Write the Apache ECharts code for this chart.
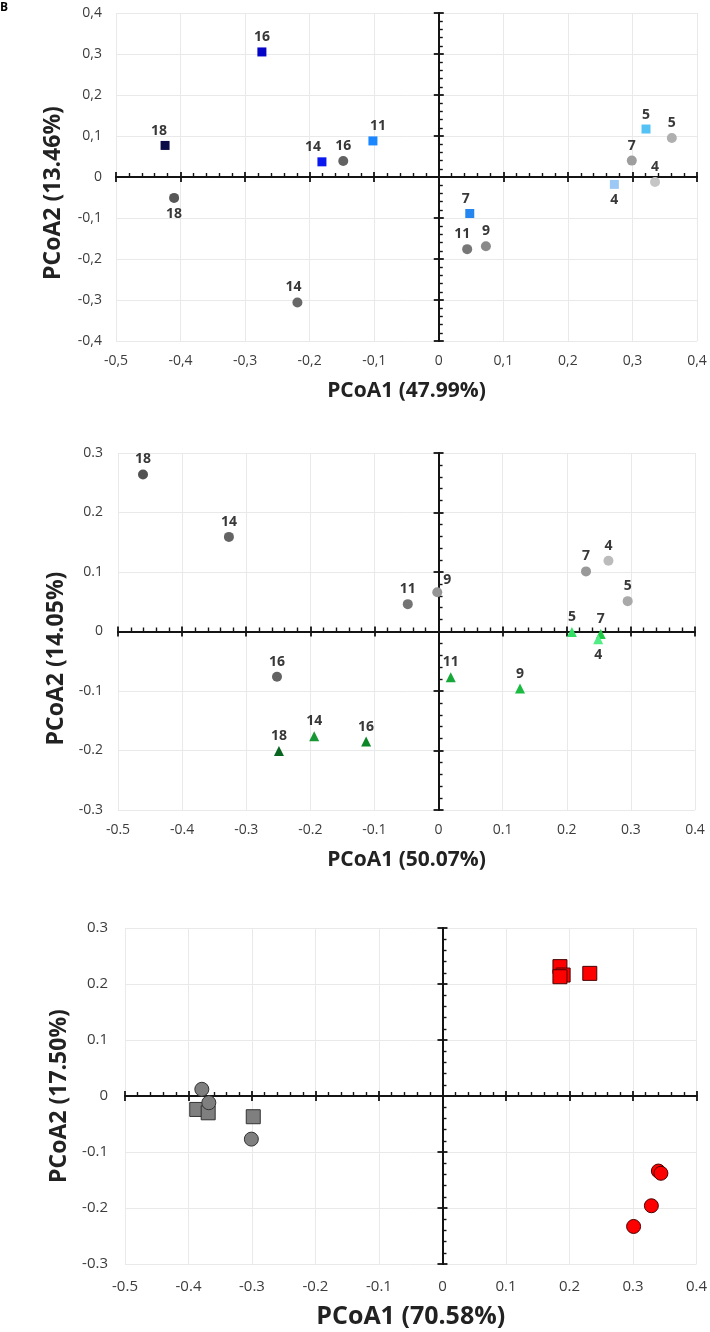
<!DOCTYPE html>
<html>
<head>
<meta charset="utf-8">
<script src="https://cdn.jsdelivr.net/npm/echarts@6/dist/echarts.min.js"></script>
<style>
html,body{margin:0;padding:0;background:#fff;}
#chart{width:710px;height:1332px;}
</style>
</head>
<body>
<div id="chart"></div>
<script>
// ---------- DATA ----------
// Panel 1 (comma decimals)
var p1XTicks = [-0.5,-0.4,-0.3,-0.2,-0.1,0,0.1,0.2,0.3,0.4];
var p1YTicks = [-0.4,-0.3,-0.2,-0.1,0,0.1,0.2,0.3,0.4];
var p1SquareDays = ['18','16','14','11','7','5','4'];
var p1SquareX = [-0.424,-0.274,-0.181,-0.102,0.048,0.321,0.272];
var p1SquareY = [0.077,0.305,0.037,0.088,-0.089,0.117,-0.018];
var p1CircleDays = ['18','16','14','11','9','7','5','4'];
var p1CircleX = [-0.410,-0.148,-0.219,0.044,0.073,0.299,0.361,0.335];
var p1CircleY = [-0.051,0.039,-0.306,-0.176,-0.169,0.040,0.095,-0.012];
var p1XName = 'PCoA1 (47.99%)';
var p1YName = 'PCoA2 (13.46%)';

// Panel 2
var p2XTicks = [-0.5,-0.4,-0.3,-0.2,-0.1,0,0.1,0.2,0.3,0.4];
var p2YTicks = [-0.3,-0.2,-0.1,0,0.1,0.2,0.3];
var p2CircleDays = ['18','16','14','11','9','7','5','4'];
var p2CircleX = [-0.461,-0.252,-0.327,-0.048,-0.002,0.230,0.295,0.265];
var p2CircleY = [0.264,-0.076,0.159,0.046,0.066,0.101,0.051,0.119];
var p2TriangleDays = ['18','16','14','11','9','7','5','4'];
var p2TriangleX = [-0.249,-0.113,-0.194,0.019,0.127,0.253,0.208,0.249];
var p2TriangleY = [-0.201,-0.185,-0.176,-0.077,-0.096,-0.004,-0.001,-0.013];
var p2XName = 'PCoA1 (50.07%)';
var p2YName = 'PCoA2 (14.05%)';

// Panel 3
var p3XTicks = [-0.5,-0.4,-0.3,-0.2,-0.1,0,0.1,0.2,0.3,0.4];
var p3YTicks = [-0.3,-0.2,-0.1,0,0.1,0.2,0.3];
var p3GraySquareX = [-0.387,-0.369,-0.298];
var p3GraySquareY = [-0.024,-0.030,-0.037];
var p3GrayCircleX = [-0.379,-0.368,-0.301];
var p3GrayCircleY = [0.012,-0.012,-0.077];
var p3RedSquareX = [0.185,0.190,0.185,0.232];
var p3RedSquareY = [0.231,0.216,0.213,0.219];
var p3RedCircleX = [0.340,0.344,0.329,0.301];
var p3RedCircleY = [-0.134,-0.138,-0.196,-0.233];
var p3XName = 'PCoA1 (70.58%)';
var p3YName = 'PCoA2 (17.50%)';

// ---------- STYLES ----------
var p1SquareColors = {'18':'#0a0a48','16':'#0505c8','14':'#0a18f0','11':'#1a86ff','7':'#2686f0','5':'#55c2f5','4':'#9cc8f6'};
var p1CircleColors = {'18':'#575757','16':'#626262','14':'#686868','11':'#777777','9':'#8a8a8a','7':'#9e9e9e','5':'#afafaf','4':'#c6c6c6'};
var p2CircleColors = {'18':'#525252','16':'#636363','14':'#646464','11':'#747474','9':'#959595','7':'#999999','5':'#a9a9a9','4':'#bbbbbb'};
var p2TriangleColors = {'18':'#086520','16':'#0c8728','14':'#179733','11':'#15a838','9':'#1abb40','7':'#1fcb44','5':'#30df63','4':'#50ec84'};
var labelOverrides = {
  'p1s-4': {position:'bottom', distance:4},
  'p1c-18': {position:'bottom', distance:4},
  'p1s-14': {offset:[-9,0]},
  'p1s-18': {offset:[-6,0]},
  'p1s-11': {offset:[5,0]},
  'p1c-14': {offset:[-4,0]},
  'p1c-11': {offset:[-5,0]},
  'p1s-7': {offset:[-4,0]},
  'p2c-9': {offset:[10,3]},
  'p2t-4': {position:'bottom', distance:4}
};

var FONT = 'Open Sans';
var grids = [
  {left:116, top:13, width:581, height:328},
  {left:118, top:453, width:577, height:357},
  {left:125, top:928, width:572, height:336}
];

function fmtComma(v){ var n = Number(v.toFixed(1)); return n === 0 ? '0' : n.toFixed(1).replace('.', ','); }
function fmtDot(v){ var n = Number(v.toFixed(1)); return n === 0 ? '0' : n.toFixed(1); }

var xAxes = [], yAxes = [];
function addAxes(i, xTicks, yTicks, fmt, cfg){
  var xMin = xTicks[0], xMax = xTicks[xTicks.length-1];
  var yMin = yTicks[0], yMax = yTicks[yTicks.length-1];
  var base = {type:'value', gridIndex:i, interval:0.1};
  var lineCol = '#141414';
  // label axes
  xAxes.push(Object.assign({}, base, {min:xMin, max:xMax, position:'bottom',
    axisLine:{show:false, onZero:false}, axisTick:{show:false},
    splitLine:{show:true, lineStyle:{color:'#e9e9e9', width:1}},
    axisLabel:{formatter:fmt, fontSize:cfg.tickFont, color:'#3c3c3c', margin:cfg.xMargin, fontFamily:FONT},
    name:cfg.xName, nameLocation:'middle', nameGap:cfg.xNameGap,
    nameTextStyle:{fontSize:cfg.xNameFont, fontWeight:'bold', color:'#222222', fontFamily:FONT}}));
  yAxes.push(Object.assign({}, base, {min:yMin, max:yMax, position:'left',
    axisLine:{show:false, onZero:false}, axisTick:{show:false},
    splitLine:{show:true, lineStyle:{color:'#e9e9e9', width:1}},
    axisLabel:{formatter:fmt, fontSize:cfg.tickFont, color:'#3c3c3c', margin:cfg.yMargin, fontFamily:FONT},
    name:cfg.yName, nameLocation:'middle', nameGap:cfg.yNameGap,
    nameTextStyle:{fontSize:cfg.yNameFont, fontWeight:'bold', color:'#222222', fontFamily:FONT, padding:cfg.yNamePad}}));
  var xi = 3*i, yi = 3*i;
  // ticks outward (major only)
  xAxes.push(Object.assign({}, base, {min:xMin, max:xMax, position:'bottom',
    axisLine:{show:true, onZero:true, onZeroAxisIndex:yi, lineStyle:{color:lineCol, width:2}},
    axisTick:{show:true, inside:false, length:5, lineStyle:{color:lineCol, width:1.8}},
    axisLabel:{show:false}, splitLine:{show:false}, minorTick:{show:false}}));
  yAxes.push(Object.assign({}, base, {min:yMin, max:yMax, position:'left',
    axisLine:{show:true, onZero:true, onZeroAxisIndex:xi, lineStyle:{color:lineCol, width:2}},
    axisTick:{show:true, inside:false, length:5, lineStyle:{color:lineCol, width:1.8}},
    axisLabel:{show:false}, splitLine:{show:false}, minorTick:{show:false}}));
  // ticks inward (major + minor)
  xAxes.push(Object.assign({}, base, {min:xMin, max:xMax, position:'bottom',
    axisLine:{show:true, onZero:true, onZeroAxisIndex:yi, lineStyle:{color:lineCol, width:2}},
    axisTick:{show:true, inside:true, length:5, lineStyle:{color:lineCol, width:1.8}},
    minorTick:{show:true, splitNumber:5, length:4, lineStyle:{color:lineCol, width:1.4}},
    axisLabel:{show:false}, splitLine:{show:false}}));
  yAxes.push(Object.assign({}, base, {min:yMin, max:yMax, position:'left',
    axisLine:{show:true, onZero:true, onZeroAxisIndex:xi, lineStyle:{color:lineCol, width:2}},
    axisTick:{show:true, inside:true, length:5, lineStyle:{color:lineCol, width:1.8}},
    minorTick:{show:true, splitNumber:5, length:4, lineStyle:{color:lineCol, width:1.4}},
    axisLabel:{show:false}, splitLine:{show:false}}));
}

addAxes(0, p1XTicks, p1YTicks, fmtComma, {tickFont:14, xMargin:13, yMargin:14, xName:p1XName, xNameGap:40, xNameFont:21, yName:p1YName, yNameGap:51, yNameFont:23, yNamePad:[0,32,0,0]});
addAxes(1, p2XTicks, p2YTicks, fmtDot, {tickFont:14, xMargin:13, yMargin:15, xName:p2XName, xNameGap:40, xNameFont:21, yName:p2YName, yNameGap:50, yNameFont:23, yNamePad:[0,54,0,0]});
addAxes(2, p3XTicks, p3YTicks, fmtDot, {tickFont:15, xMargin:15, yMargin:17, xName:p3XName, xNameGap:40, xNameFont:25, yName:p3YName, yNameGap:48, yNameFont:23, yNamePad:[0,0,0,0]});

function labeledPoints(key, days, xs, ys, colors){
  return days.map(function(d, k){
    var item = {value:[xs[k], ys[k]], name:d, itemStyle:{color:colors[d]}};
    var ov = labelOverrides[key + '-' + d];
    if (ov) item.label = ov;
    return item;
  });
}
function plainPoints(xs, ys){ return xs.map(function(x,k){ return [x, ys[k]]; }); }

var ptLabel = {show:true, position:'top', distance:3, formatter:'{b}', fontSize:14, fontWeight:'bold', color:'#383838', fontFamily:FONT};
var solid = {opacity:1};

var series = [
  {type:'scatter', xAxisIndex:0, yAxisIndex:0, symbol:'circle', symbolSize:10, label:ptLabel, itemStyle:solid,
   data:labeledPoints('p1c', p1CircleDays, p1CircleX, p1CircleY, p1CircleColors)},
  {type:'scatter', xAxisIndex:0, yAxisIndex:0, symbol:'rect', symbolSize:9, label:ptLabel, itemStyle:solid,
   data:labeledPoints('p1s', p1SquareDays, p1SquareX, p1SquareY, p1SquareColors)},
  {type:'scatter', xAxisIndex:3, yAxisIndex:3, symbol:'circle', symbolSize:10, label:ptLabel, itemStyle:solid,
   data:labeledPoints('p2c', p2CircleDays, p2CircleX, p2CircleY, p2CircleColors)},
  {type:'scatter', xAxisIndex:3, yAxisIndex:3, symbol:'triangle', symbolSize:10, label:ptLabel, itemStyle:solid,
   data:labeledPoints('p2t', p2TriangleDays, p2TriangleX, p2TriangleY, p2TriangleColors)},
  {type:'scatter', xAxisIndex:6, yAxisIndex:6, symbol:'rect', symbolSize:14,
   itemStyle:{color:'#7f7f7f', borderColor:'#333333', borderWidth:1, opacity:1}, data:plainPoints(p3GraySquareX, p3GraySquareY)},
  {type:'scatter', xAxisIndex:6, yAxisIndex:6, symbol:'circle', symbolSize:14,
   itemStyle:{color:'#7f7f7f', borderColor:'#333333', borderWidth:1, opacity:1}, data:plainPoints(p3GrayCircleX, p3GrayCircleY)},
  {type:'scatter', xAxisIndex:6, yAxisIndex:6, symbol:'rect', symbolSize:14,
   itemStyle:{color:'#ff0000', borderColor:'#4a0000', borderWidth:1, opacity:1}, data:plainPoints(p3RedSquareX, p3RedSquareY)},
  {type:'scatter', xAxisIndex:6, yAxisIndex:6, symbol:'circle', symbolSize:14,
   itemStyle:{color:'#ff0000', borderColor:'#4a0000', borderWidth:1, opacity:1}, data:plainPoints(p3RedCircleX, p3RedCircleY)}
];

var chart = echarts.init(document.getElementById('chart'), null, {renderer:'canvas'});
chart.setOption({
  backgroundColor:'#ffffff',
  animation:false,
  textStyle:{fontFamily:FONT},
  graphic:[{type:'text', left:0, top:2, style:{text:'B', font:'bold 12px "Open Sans"', fill:'#000'}}],
  grid:grids,
  xAxis:xAxes,
  yAxis:yAxes,
  series:series
});
</script>
</body>
</html>
